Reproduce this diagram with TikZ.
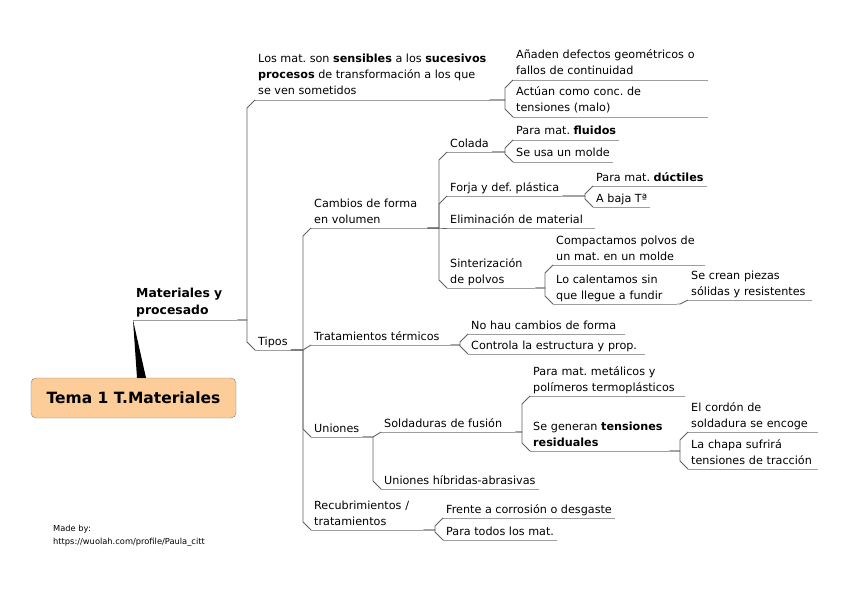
\documentclass[tikz,border=0pt]{standalone}
\usepackage{fontspec}
\setmainfont{DejaVu Sans}
\usetikzlibrary{calc}
\frenchspacing

\definecolor{peach}{RGB}{252,204,153}

% fork from the end of a parent's underline to the start of a child's
\newcommand{\mapfork}[2]{%
  \draw[link] let \p1=(#1.south east), \p2=(#2.south west),
    \n1={sign(\y1-\y2)*min(8,abs(\y1-\y2))} in
    (\p1) -| ({\x2-8pt},{\y2+(\n1)*1pt}) -- (\p2);}

\begin{document}
\begin{tikzpicture}[x=1pt, y=-1pt,
  topic/.style={anchor=south west, inner xsep=3pt, inner ysep=0pt, align=left,
    font=\fontsize{11.2}{16}\selectfont, execute at end node=\strut,
    append after command={(\tikzlastnode.south west) edge[uline] (\tikzlastnode.south east)}},
  uline/.style={draw=black!38, line width=0.9pt},
  link/.style={draw=black!62, line width=0.9pt}]
  \useasboundingbox (0,0) rectangle (848,599);

  % Central topic
  \node[draw=black!50, fill=peach, rounded corners=5pt, minimum width=205pt,
    minimum height=40pt, font=\fontsize{15.5}{18}\selectfont\bfseries]
    (root) at (133.5,398) {Tema 1 T.Materiales};
  \node[topic, font=\fontsize{12.4}{17}\selectfont\bfseries, text width=98pt]
    (mat) at (133,320) {Materiales y\\procesado};
  \fill ([xshift=3.5pt]root.north) -- (mat.south west)
    -- ([xshift=12.5pt]root.north) -- cycle;

  % First branch
  \node[topic] (los) at (255,100) {Los mat. son \textbf{sensibles} a los \textbf{sucesivos}\\
    \textbf{procesos} de transformación a los que\\se ven sometidos};
  \node[topic, text width=189pt] (ana) at (513,80) {Añaden defectos geométricos o\\fallos de continuidad};
  \node[topic, text width=189pt] (act) at (513,117) {Actúan como conc. de\\tensiones (malo)};

  % Tipos
  \node[topic] (tipos) at (255,350) {Tipos};
  \node[topic, text width=110pt] (cam) at (311,228) {Cambios de forma\\en volumen};
  \node[topic, text width=133pt] (trat) at (311,345) {Tratamientos térmicos};
  \node[topic] (uni) at (311,437) {Uniones};
  \node[topic, text width=106pt] (rec) at (311,530) {Recubrimientos /\\tratamientos};

  % Cambios de forma
  \node[topic] (col) at (447,152) {Colada};
  \node[topic] (flu) at (513,140) {Para mat. \textbf{fluidos}};
  \node[topic] (mol) at (513,162) {Se usa un molde};
  \node[topic] (forja) at (447,196) {Forja y def. plástica};
  \node[topic] (duc) at (593,186) {Para mat. \textbf{dúctiles}};
  \node[topic] (baja) at (593,207) {A baja Tª};
  \node[topic, text width=142pt] (elim) at (447,228) {Eliminación de material};
  \node[topic, text width=82pt] (sint) at (447,288) {Sinterización\\de polvos};
  \node[topic, text width=146pt] (comp) at (553,265) {Compactamos polvos de\\un mat. en un molde};
  \node[topic, text width=118pt] (calen) at (553,304) {Lo calentamos sin\\que llegue a fundir};
  \node[topic, text width=118pt] (piezas) at (688,300) {Se crean piezas\\sólidas y resistentes};

  % Tratamientos
  \node[topic, text width=151pt] (nohau) at (468,334) {No hau cambios de forma};
  \node[topic, text width=171pt] (contr) at (468,354) {Controla la estructura y prop.};

  % Uniones
  \node[topic, text width=128pt] (sold) at (381,432) {Soldaduras de fusión};
  \node[topic] (hibr) at (381,489) {Uniones híbridas-abrasivas};
  \node[topic, text width=149pt] (polim) at (530,396) {Para mat. metálicos y\\polímeros termoplásticos};
  \node[topic, text width=133pt] (resid) at (530,451) {Se generan \textbf{tensiones}\\\textbf{residuales}};
  \node[topic, text width=124pt] (cordon) at (688,432) {El cordón de\\soldadura se encoge};
  \node[topic, text width=124pt] (chapa) at (688,469) {La chapa sufrirá\\tensiones de tracción};

  % Recubrimientos
  \node[topic] (frente) at (443,518) {Frente a corrosión o desgaste};
  \node[topic] (todos) at (443,540) {Para todos los mat.};

  % Forks
  \mapfork{mat}{los}
  \mapfork{mat}{tipos}
  \mapfork{los}{ana}
  \mapfork{los}{act}
  \mapfork{tipos}{cam}
  \mapfork{tipos}{trat}
  \mapfork{tipos}{uni}
  \mapfork{tipos}{rec}
  \mapfork{cam}{col}
  \mapfork{cam}{forja}
  \mapfork{cam}{elim}
  \mapfork{cam}{sint}
  \mapfork{col}{flu}
  \mapfork{col}{mol}
  \mapfork{forja}{duc}
  \mapfork{forja}{baja}
  \mapfork{sint}{comp}
  \mapfork{sint}{calen}
  \mapfork{calen}{piezas}
  \mapfork{trat}{nohau}
  \mapfork{trat}{contr}
  \mapfork{uni}{sold}
  \mapfork{uni}{hibr}
  \mapfork{sold}{polim}
  \mapfork{sold}{resid}
  \mapfork{resid}{cordon}
  \mapfork{resid}{chapa}
  \mapfork{rec}{frente}
  \mapfork{rec}{todos}

  % Credit
  \node[anchor=north west, align=left, inner sep=0pt, font=\fontsize{8.3}{13}\selectfont]
    (credit) at (53,525) {Made by:\\https://wuolah.com/profile/Paula\_citt};
\end{tikzpicture}
\end{document}
